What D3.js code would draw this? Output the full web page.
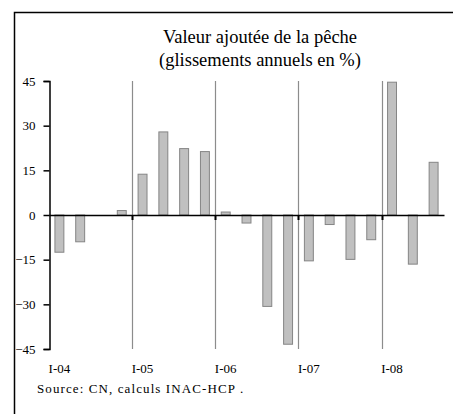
<!DOCTYPE html>
<html>
<head>
<meta charset="utf-8">
<script src="https://cdn.jsdelivr.net/npm/d3@7"></script>
<style>
  body { margin: 0; background: #fff; }
</style>
</head>
<body>
<script>
// quarterly labels, I-04 .. III-08
const quarters = ["I-04", "II-04", "III-04", "IV-04",
                  "I-05", "II-05", "III-05", "IV-05",
                  "I-06", "II-06", "III-06", "IV-06",
                  "I-07", "II-07", "III-07", "IV-07",
                  "I-08", "II-08", "III-08"];
const values = [-12.5, -9, null, 1.5,
                13.7, 27.9, 22.3, 21.3,
                1.0, -2.7, -30.7, -43.4,
                -15.4, -3.2, -14.9, -8.3,
                44.6, -16.5, 17.7];
const yTicks = [-45, -30, -15, 0, 15, 30, 45];
const xLabels = ["I-04", "I-05", "I-06", "I-07", "I-08"];
const yearStarts = ["I-05", "I-06", "I-07", "I-08"];

const w = 453;
const h = 414;
const serif = "'Liberation Serif', 'Times New Roman', serif";

const data = quarters.map((q, i) => ({q: q, v: values[i]}));

const xScale = d3.scaleBand()
    .domain(quarters)
    .range([49, 444]);

const yScale = d3.scaleLinear()
    .domain([-45, 45])
    .range([349, 81]);

const svg = d3.select("body")
  .append("svg")
    .attr("width", w)
    .attr("height", h)
    .style("font-family", serif);

// frame (left and top edges visible)
svg.append("path")
    .attr("d", `M14.5,${h} L14.5,12.5 L${w},12.5`)
    .attr("fill", "none")
    .attr("stroke", "#000")
    .attr("stroke-width", 1.5);

// title
svg.append("text")
    .attr("x", 260)
    .attr("y", 43)
    .attr("text-anchor", "middle")
    .attr("font-family", serif)
    .style("font-size", "18.5px")
    .text("Valeur ajoutée de la pêche");

svg.append("text")
    .attr("x", 260)
    .attr("y", 66)
    .attr("text-anchor", "middle")
    .attr("font-family", serif)
    .style("font-size", "18.5px")
    .text("(glissements annuels en %)");

// year separators
svg.append("g")
  .selectAll("line")
  .data(yearStarts)
  .enter().append("line")
    .attr("x1", d => Math.round(xScale(d)) + 0.5)
    .attr("x2", d => Math.round(xScale(d)) + 0.5)
    .attr("y1", yScale(45))
    .attr("y2", yScale(-45))
    .attr("stroke", "#8c8c8c")
    .attr("stroke-width", 1.2);

// bars
const barW = xScale.bandwidth() * 0.43;
svg.append("g")
  .selectAll("rect")
  .data(data.filter(d => d.v !== null))
  .enter().append("rect")
    .attr("x", d => xScale(d.q) + (xScale.bandwidth() - barW) / 2)
    .attr("y", d => yScale(Math.max(0, d.v)))
    .attr("width", barW)
    .attr("height", d => Math.abs(yScale(d.v) - yScale(0)))
    .attr("fill", "#c0c0c0")
    .attr("stroke", "#858585")
    .attr("stroke-width", 1);

// y axis
const yAxis = d3.axisLeft(yScale)
    .tickValues(yTicks)
    .tickFormat(d3.format("d"))
    .tickSizeOuter(0)
    .tickSize(6)
    .tickPadding(8);

const gy = svg.append("g")
    .attr("transform", "translate(49.5,0)")
    .call(yAxis)
    .attr("font-family", serif)
    .attr("font-size", 13);
gy.select(".domain").attr("stroke", "#000").attr("stroke-width", 1.5);
gy.selectAll(".tick line").attr("stroke", "#000").attr("stroke-width", 1.5);

// zero axis with year ticks
const xAxis = d3.axisBottom(xScale)
    .tickValues(yearStarts)
    .tickSize(5)
    .tickSizeOuter(0)
    .tickFormat("");

const gx = svg.append("g")
    .attr("transform", `translate(0,${yScale(0)})`)
    .call(xAxis);
gx.select(".domain").attr("stroke", "#000").attr("stroke-width", 1.5);
gx.selectAll(".tick")
    .attr("transform", d => `translate(${Math.round(xScale(d)) + 0.5},0)`);
gx.selectAll(".tick line").attr("stroke", "#000").attr("stroke-width", 2);

// category labels
svg.append("g")
  .selectAll("text")
  .data(xLabels)
  .enter().append("text")
    .attr("x", d => xScale(d) + xScale.bandwidth() / 2)
    .attr("y", 373)
    .attr("text-anchor", "middle")
    .attr("font-family", serif)
    .style("font-size", "13px")
    .text(d => d);

// source
svg.append("text")
    .attr("x", 37)
    .attr("y", 393)
    .attr("font-family", serif)
    .style("font-size", "13px")
    .style("letter-spacing", "1.1px")
    .text("Source: CN, calculs INAC-HCP .");
</script>
</body>
</html>
